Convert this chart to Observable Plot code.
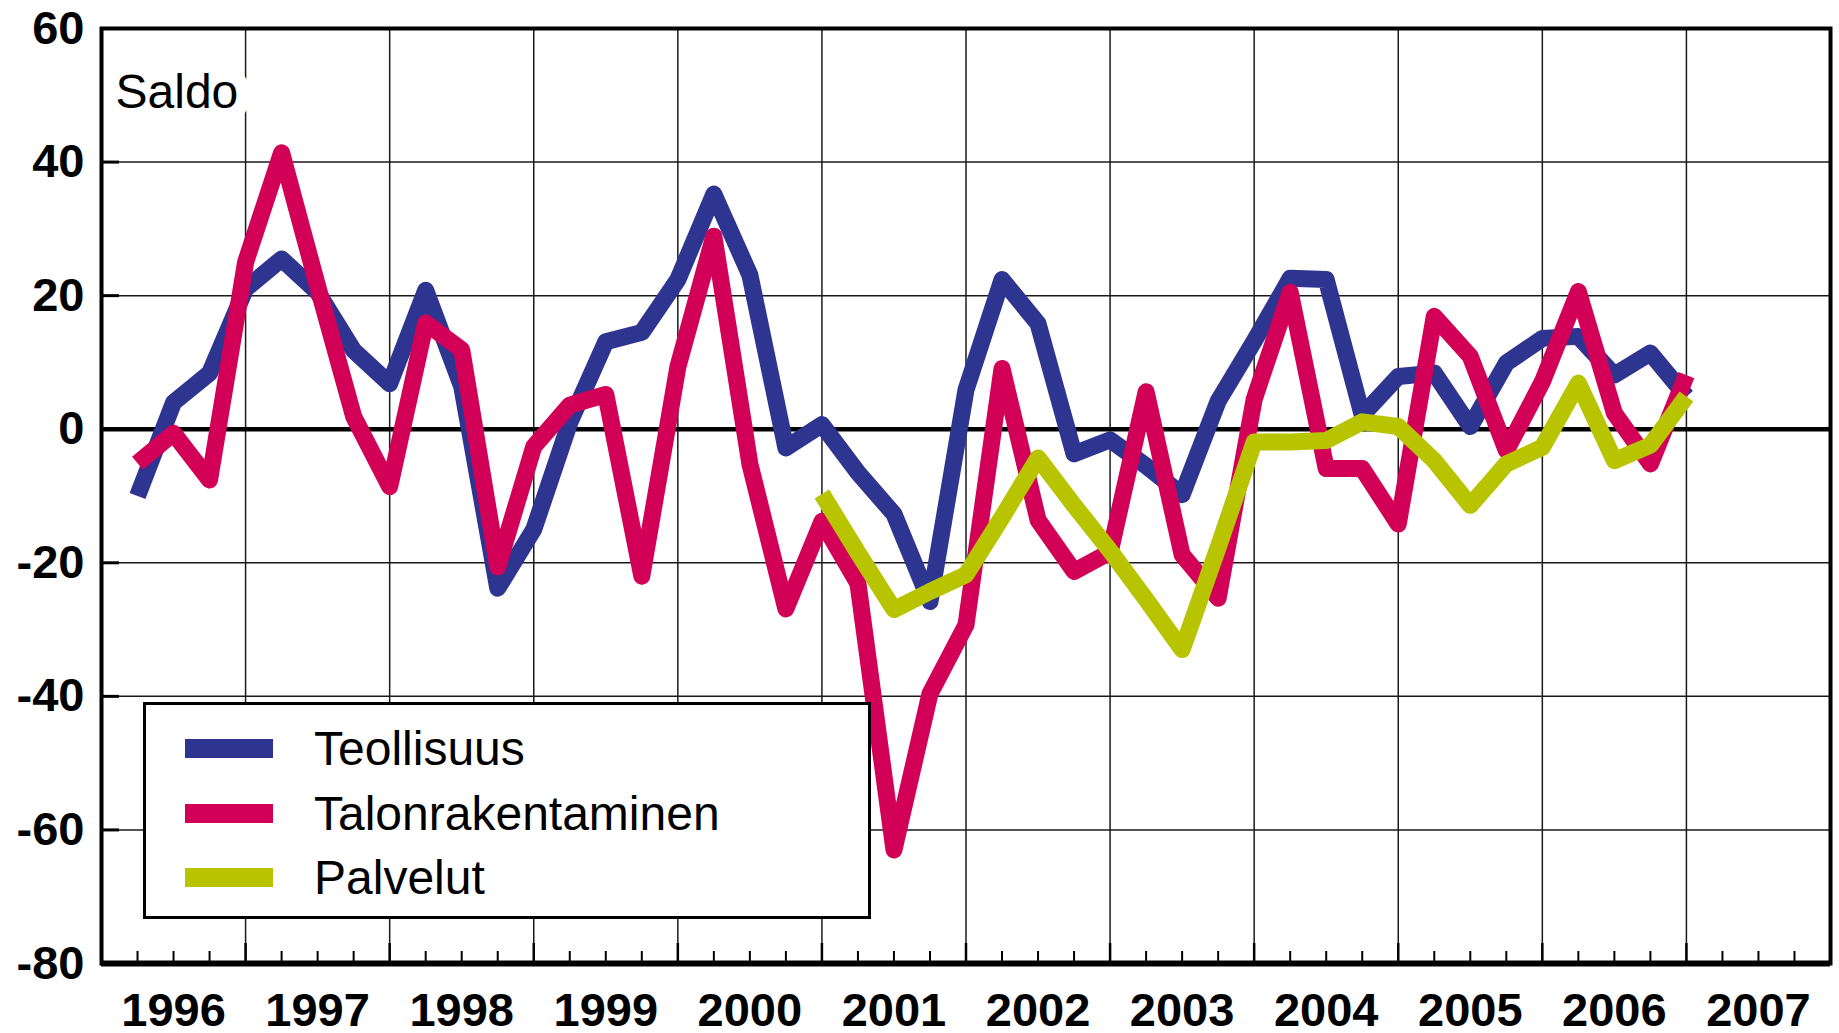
<!DOCTYPE html>
<html>
<head>
<meta charset="utf-8">
<script src="https://cdn.jsdelivr.net/npm/d3@7"></script>
<script src="https://cdn.jsdelivr.net/npm/@observablehq/plot@0.6"></script>
<style>
  html, body { margin: 0; padding: 0; background: #fff; }
  #wrap { position: relative; width: 1839px; height: 1033px; font-family: "Liberation Sans", Arial, sans-serif; }
  #legend { position: absolute; left: 143px; top: 702px; width: 728px; height: 217px; box-sizing: border-box; border: 3px solid #000; background: #fff; }
  .item { position: absolute; left: 0; height: 0; }
  .sw { position: absolute; left: 39px; width: 88px; height: 19px; top: -9.5px; }
  .lb { position: absolute; left: 168px; top: -27px; font-size: 48px; line-height: 56px; white-space: nowrap; color: #000; }
</style>
</head>
<body>
<div id="wrap"></div>
<script>
// ---- data (quarterly balance figures, 1996Q1 .. 2006Q4) ----
const startYear = 1996;
const yearLabels = [1996, 1997, 1998, 1999, 2000, 2001, 2002, 2003, 2004, 2005, 2006, 2007];
const yTicks = [-80, -60, -40, -20, 0, 20, 40, 60];
const seriesNames = ["Teollisuus", "Talonrakentaminen", "Palvelut"];
const seriesColors = ["#2E3591", "#D20057", "#B9C400"];
const yTitle = "Saldo";

const teollisuus = [
  -10, 4, 8.4, 21,
  25.5, 20.5, 11.8, 6.8,
  20.8, 6.4, -23.8, -15,
  1, 13.1, 14.5, 22.4,
  35.2, 23.1, -2.8, 0.7,
  -6.5, -12.7, -25.8, 5.9,
  22.4, 15.8, -3.7, -1.6,
  -5.5, -9.8, 4.2, 13.2,
  22.6, 22.4, 2.1, 7.9,
  8.4, 0.4, 9.9, 13.6,
  13.9, 8.1, 11.4, 4.9
];
const talonrakentaminen = [
  -5.1, -0.6, -7.6, 25,
  41.4, 21.4, 1.9, -8.6,
  15.9, 11.9, -20.6, -2.6,
  3.6, 5.2, -22, 9.3,
  28.9, -5.2, -26.9, -13.8,
  -23.1, -63, -39.6, -29.3,
  9.1, -13.6, -21.3, -18.4,
  5.6, -18.8, -25.3, 4.5,
  20.5, -5.9, -5.9, -14.2,
  16.9, 10.9, -3.2, 7.1,
  20.6, 2.4, -5.2, 8.1
];
// Palvelut starts at 2000Q4 (quarter index 19)
const palvelutStartIndex = 19;
const palvelut = [
  -9.7,
  -18.5, -27, -24.3, -21.8,
  -13.2, -4.3, -11.4, -18.2,
  -25.5, -33, -17.7, -1.9,
  -1.9, -1.7, 1.1, 0.4,
  -4.7, -11.4, -5.2, -2.7,
  6.9, -4.7, -2.4, 4.9
];

// ---- build table ----
const qx = i => startYear + (i + 1) / 4;
const rows = [];
teollisuus.forEach((v, i) => rows.push({s: seriesNames[0], x: qx(i), y: v}));
talonrakentaminen.forEach((v, i) => rows.push({s: seriesNames[1], x: qx(i), y: v}));
palvelut.forEach((v, i) => rows.push({s: seriesNames[2], x: qx(i + palvelutStartIndex), y: v}));

const firstYear = yearLabels[0];
const lastYear = yearLabels[yearLabels.length - 1] + 1;
const yearLines = d3.range(firstYear + 1, lastYear);
const quarterTicks = d3.range(firstYear * 4 + 1, lastYear * 4).filter(q => q % 4 !== 0).map(q => q / 4);
const labelPos = yearLabels.map(y => y + 0.5);

const font = "Liberation Sans, Arial, Helvetica, sans-serif";
const lineOpts = (name, color) => ({
  filter: d => d.s === name, x: "x", y: "y", stroke: color,
  strokeWidth: 17, strokeLinejoin: "round", strokeLinecap: "butt"
});

const chart = Plot.plot({
  width: 1839,
  height: 1033,
  marginLeft: 101,
  marginRight: 9,
  marginTop: 28,
  marginBottom: 70,
  style: {fontFamily: font, background: "white", color: "black", overflow: "visible"},
  x: {domain: [firstYear, lastYear]},
  y: {domain: [yTicks[0], yTicks[yTicks.length - 1]]},
  marks: [
    Plot.gridX(yearLines, {stroke: "#1a1a1a", strokeOpacity: 1, strokeWidth: 1.5}),
    Plot.gridY(yTicks.filter(t => t !== 0), {stroke: "#1a1a1a", strokeOpacity: 1, strokeWidth: 1.5}),
    Plot.ruleY([0], {stroke: "black", strokeWidth: 4.5}),
    Plot.axisY(yTicks, {tickSize: 0, tickPadding: 17, fontSize: 47, fontWeight: "bold", fill: "black",
      tickFormat: d => String(d), label: null}),
    Plot.axisY(yTicks, {tickSize: -18, strokeWidth: 3, stroke: "black", tickFormat: () => "", label: null}),
    Plot.axisX(labelPos, {tickSize: 0, tickPadding: 29, fontSize: 47, fontWeight: "bold", fill: "black",
      tickFormat: d => String(Math.floor(d)), label: null}),
    Plot.axisX(quarterTicks, {tickSize: -12, strokeWidth: 2, stroke: "black", tickFormat: () => "", label: null}),
    Plot.axisX(yearLines, {tickSize: -20, strokeWidth: 2.5, stroke: "black", tickFormat: () => "", label: null}),
    Plot.text([yTitle], {frameAnchor: "top-left", dx: 14, dy: 45, lineAnchor: "top", textAnchor: "start",
      fontSize: 48, fill: "black", stroke: "white", strokeWidth: 28}),
    Plot.line(rows, lineOpts(seriesNames[0], seriesColors[0])),
    Plot.line(rows, lineOpts(seriesNames[1], seriesColors[1])),
    Plot.line(rows, lineOpts(seriesNames[2], seriesColors[2])),
    Plot.frame({stroke: "black", strokeWidth: 4}),
    Plot.ruleY([yTicks[0]], {stroke: "black", strokeWidth: 6})
  ]
});

const wrap = document.getElementById("wrap");
wrap.appendChild(chart);

// legend (inside the plot area, lower left)
const legend = document.createElement("div");
legend.id = "legend";
const rowCenters = [43, 108, 172];
seriesNames.forEach((name, i) => {
  const item = document.createElement("div");
  item.className = "item";
  item.style.top = rowCenters[i] + "px";
  const sw = document.createElement("div");
  sw.className = "sw";
  sw.style.background = seriesColors[i];
  const lb = document.createElement("div");
  lb.className = "lb";
  lb.textContent = name;
  item.appendChild(sw);
  item.appendChild(lb);
  legend.appendChild(item);
});
wrap.appendChild(legend);
</script>
</body>
</html>
